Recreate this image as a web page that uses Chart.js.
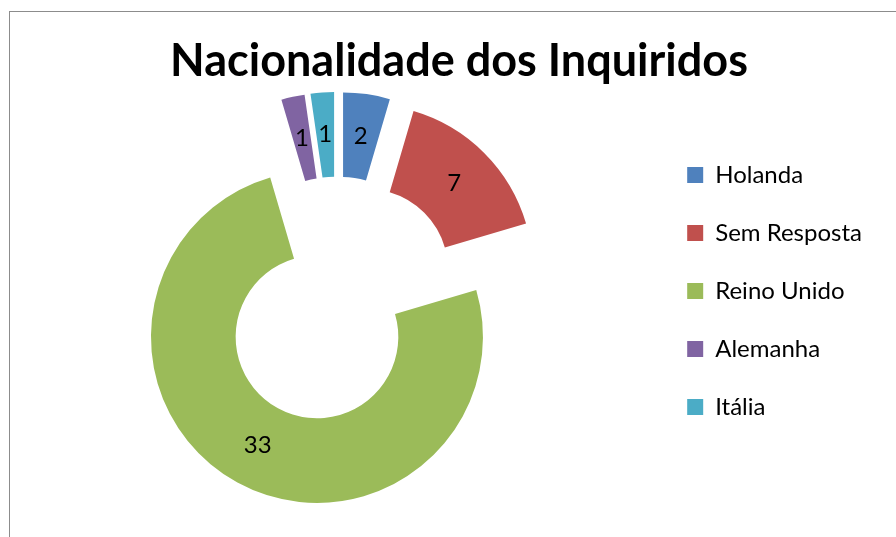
<!DOCTYPE html>
<html>
<head>
<meta charset="utf-8">
<script src="https://cdn.jsdelivr.net/npm/chart.js@4.4.1/dist/chart.umd.min.js"></script>
<style>
  html, body { margin: 0; padding: 0; background: #fff; overflow: hidden; }
  body { width: 896px; height: 537px; position: relative; }
  #frame { position: absolute; left: 9px; top: 11px; width: 1000px; height: 700px; border: 1px solid #8c8c8c; }
  #wrap { position: absolute; left: -3px; top: 0; width: 924px; height: 537px; }
</style>
</head>
<body>
<div id="frame"></div>
<div id="wrap"><canvas id="chart"></canvas></div>
<script>
// dados do gráfico
const paises = ['Holanda', 'Sem Resposta', 'Reino Unido', 'Alemanha', 'Itália'];
const inquiridos = [2, 7, 33, 1, 1];
const cores = ['#4F81BD', '#C0504D', '#9BBB59', '#8064A2', '#4BACC6'];

const FONTE = 'Lato, "Open Sans", sans-serif';
const EXPLODE = 42; // afastamento de cada fatia

// desenha as fatias afastadas do centro e o valor em cada uma
const fatiasAfastadas = {
  id: 'fatiasAfastadas',
  afterLayout(chart) {
    // título centrado na largura toda do gráfico
    if (chart.titleBlock) {
      chart.titleBlock.left = 0;
      chart.titleBlock.right = chart.width;
    }
  },
  beforeDatasetDraw(chart, args) {
    const ctx = chart.ctx;
    const ds = chart.data.datasets[args.index];
    args.meta.data.forEach(function(arc) {
      const meio = (arc.startAngle + arc.endAngle) / 2;
      ctx.save();
      ctx.translate(Math.cos(meio) * EXPLODE, Math.sin(meio) * EXPLODE);
      arc.draw(ctx);
      ctx.restore();
    });

    ctx.save();
    ctx.font = '24px ' + FONTE;
    ctx.fillStyle = '#000';
    ctx.textAlign = 'center';
    ctx.textBaseline = 'middle';
    args.meta.data.forEach(function(arc, i) {
      const meio = (arc.startAngle + arc.endAngle) / 2;
      const r = (arc.innerRadius + arc.outerRadius) / 2 + EXPLODE;
      ctx.fillText(String(ds.data[i]), arc.x + Math.cos(meio) * r, arc.y + Math.sin(meio) * r);
    });
    ctx.restore();
    return false;
  }
};

new Chart(document.getElementById('chart'), {
  type: 'doughnut',
  data: {
    labels: paises,
    datasets: [{
      data: inquiridos,
      backgroundColor: cores,
      borderWidth: 0,
      clip: false
    }]
  },
  options: {
    responsive: true,
    maintainAspectRatio: false,
    animation: false,
    radius: 166,
    cutout: '49%',
    layout: { padding: { left: 24, right: 49, top: 0, bottom: 66 } },
    plugins: {
      title: {
        display: true,
        text: 'Nacionalidade dos Inquiridos',
        color: '#000',
        font: { family: FONTE, size: 45, weight: 'bold' },
        padding: { top: 34, bottom: 41 }
      },
      legend: {
        position: 'right',
        align: 'start',
        fullSize: false,
        labels: {
          boxWidth: 16,
          boxHeight: 16,
          padding: 34,
          color: '#000',
          font: { family: FONTE, size: 24 }
        }
      },
      tooltip: { enabled: false }
    }
  },
  plugins: [fatiasAfastadas]
});
</script>
</body>
</html>
